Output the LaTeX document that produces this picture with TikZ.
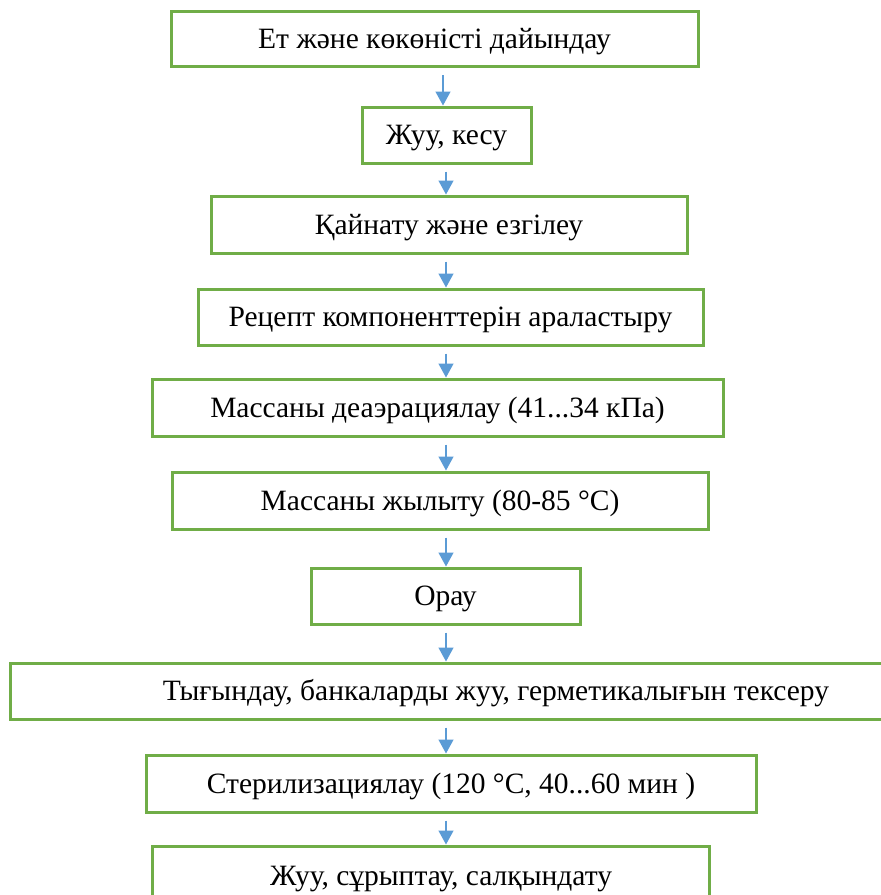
\documentclass[tikz,border=0pt]{standalone}
\usepackage{fontspec}
\setmainfont{Liberation Serif}
\usetikzlibrary{arrows.meta}
\definecolor{boxgreen}{HTML}{70AD47}
\definecolor{arrblue}{HTML}{5B9BD5}
\begin{document}
\begin{tikzpicture}[x=1pt,y=-1pt,
  txt/.style={inner sep=0pt, font=\fontsize{29.5}{34}\selectfont, text height=19pt, text depth=0pt},
  stepbox/.style={txt, draw=boxgreen, line width=3pt, minimum height=55pt},
  arr/.style={draw=arrblue, line width=1.3pt, shorten <=7pt, -{Triangle[width=15pt,length=14pt]}}]
\clip (0,0) rectangle (881,895);
\fill[white] (0,0) rectangle (881,895);
\node[stepbox, minimum width=527pt] (b1) at (434.5,39) {Ет және көкөністі дайындау};
\node[stepbox, minimum width=169pt, minimum height=56pt] (b2) at (446.5,135) {Жуу, кесу};
\node[stepbox, minimum width=476pt, minimum height=57pt] (b3) at (449,224.5) {Қайнату және езгілеу};
\node[stepbox, minimum width=505pt, minimum height=56pt] (b4) at (450.5,317) {Рецепт компоненттерін араластыру};
\node[stepbox, minimum width=571pt, minimum height=57pt] (b5) at (437.5,407.5) {Массаны деаэрациялау (41...34 кПа)};
\node[stepbox, minimum width=536pt, minimum height=57pt] (b6) at (440,500.5) {Массаны жылыту (80-85 °C)};
\node[stepbox, minimum width=269pt, minimum height=56pt] (b7) at (445.5,596) {Орау};
\node[stepbox, minimum width=890pt, minimum height=56pt] (b8) at (455,691) {};
\node[txt] (b8t) at (496,691) {Тығындау, банкаларды жуу, герметикалығын тексеру};
\node[stepbox, minimum width=610pt, minimum height=57pt] (b9) at (451,783.5) {Стерилизациялау (120 °C, 40...60 мин )};
\node[stepbox, minimum width=557pt, minimum height=80pt] (b10) at (430.5,886) {};
\node[txt] (b10t) at (441,876) {Жуу, сұрыптау, салқындату};
\coordinate (ax) at (446,0);
\coordinate (ax1) at (443,0);
\draw[arr] (b1.south -| ax1) -- (b2.north -| ax1);
\draw[arr] (b2.south -| ax) -- (b3.north -| ax);
\draw[arr] (b3.south -| ax) -- (b4.north -| ax);
\draw[arr] (b4.south -| ax) -- (b5.north -| ax);
\draw[arr] (b5.south -| ax) -- (b6.north -| ax);
\draw[arr] (b6.south -| ax) -- (b7.north -| ax);
\draw[arr] (b7.south -| ax) -- (b8.north -| ax);
\draw[arr] (b8.south -| ax) -- (b9.north -| ax);
\draw[arr] (b9.south -| ax) -- (b10.north -| ax);
\end{tikzpicture}
\end{document}
